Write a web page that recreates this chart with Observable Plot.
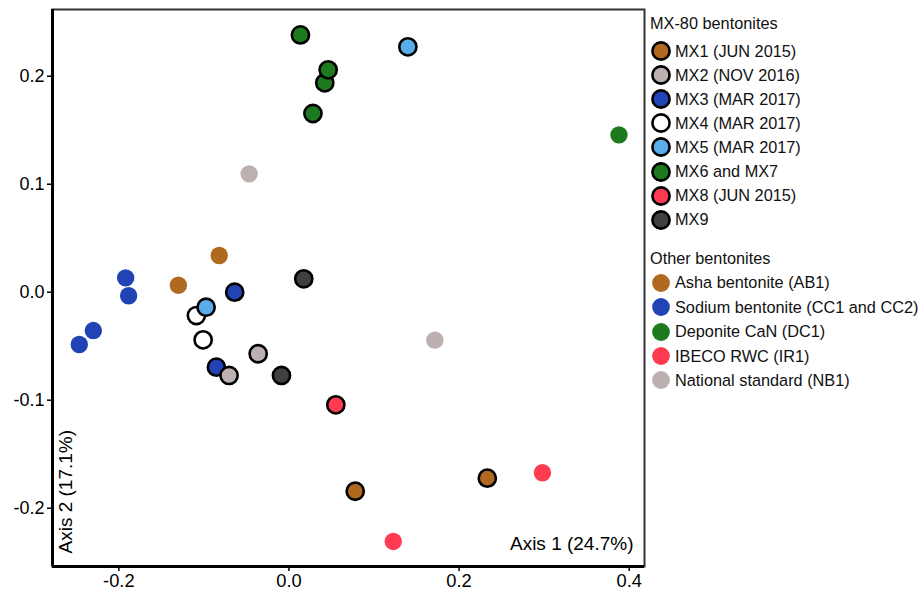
<!DOCTYPE html>
<html>
<head>
<meta charset="utf-8">
<script src="https://cdn.jsdelivr.net/npm/d3@7"></script>
<script src="https://cdn.jsdelivr.net/npm/@observablehq/plot@0.6"></script>
<style>
  html, body { margin: 0; padding: 0; background: #fff; }
  #wrap { position: relative; width: 920px; height: 589px; font-family: Arial, "Liberation Sans", sans-serif; }
  #legend { position: absolute; left: 650px; top: 10.5px; font-size: 16.3px; color: #111; }
  .lt { height: 24px; line-height: 24px; white-space: nowrap; }
  .li { display: flex; align-items: center; white-space: nowrap; }
  .mx .li { height: 24.1px; }
  .ot .li { height: 24.4px; }
  .li svg { margin-right: 3px; flex: none; }
</style>
</head>
<body>
<div id="wrap"><div id="chart"></div><div id="legend"></div></div>
<script>
// ---- Legend groups ----
const mxNames = ["MX1 (JUN 2015)", "MX2 (NOV 2016)", "MX3 (MAR 2017)", "MX4 (MAR 2017)", "MX5 (MAR 2017)", "MX6 and MX7", "MX8 (JUN 2015)", "MX9"];
const mxColors = ["#B0691E", "#BDB0B0", "#2143B6", "#FFFFFF", "#5AADEB", "#1E7A1E", "#FF3B52", "#404040"];
const otherNames = ["Asha bentonite (AB1)", "Sodium bentonite (CC1 and CC2)", "Deponite CaN (DC1)", "IBECO RWC (IR1)", "National standard (NB1)"];
const otherColors = ["#B0691E", "#2143B6", "#1E7A1E", "#FF3B52", "#BDB0B0"];

// ---- Other bentonites samples (no outline) ----
const otherGroup = ["Asha bentonite (AB1)", "Asha bentonite (AB1)",
  "Sodium bentonite (CC1 and CC2)", "Sodium bentonite (CC1 and CC2)", "Sodium bentonite (CC1 and CC2)", "Sodium bentonite (CC1 and CC2)",
  "Deponite CaN (DC1)", "IBECO RWC (IR1)", "IBECO RWC (IR1)",
  "National standard (NB1)", "National standard (NB1)"];
const otherAxis1 = [-0.082, -0.130, -0.192, -0.1885, -0.230, -0.2465, 0.388, 0.298, 0.1226, -0.0468, 0.1715];
const otherAxis2 = [0.034, 0.0065, 0.0133, -0.0033, -0.0355, -0.0484, 0.1457, -0.1672, -0.2308, 0.1096, -0.0444];

// ---- MX-80 samples (black outline) ----
const mxGroup = ["MX1 (JUN 2015)", "MX1 (JUN 2015)",
  "MX3 (MAR 2017)", "MX3 (MAR 2017)",
  "MX2 (NOV 2016)", "MX2 (NOV 2016)",
  "MX4 (MAR 2017)", "MX4 (MAR 2017)",
  "MX5 (MAR 2017)", "MX5 (MAR 2017)",
  "MX6 and MX7", "MX6 and MX7", "MX6 and MX7", "MX6 and MX7",
  "MX8 (JUN 2015)", "MX9", "MX9"];
const mxAxis1 = [0.0779, 0.2332, -0.0638, -0.0853, -0.0704, -0.0362, -0.1088, -0.1009, -0.0974, 0.1398, 0.0135, 0.0282, 0.0421, 0.0461, 0.0551, 0.0174, -0.0088];
const mxAxis2 = [-0.1843, -0.1722, 0.0, -0.0694, -0.0771, -0.057, -0.0216, -0.0441, -0.0139, 0.2272, 0.2383, 0.1655, 0.1939, 0.2059, -0.1043, 0.0124, -0.0771];

// ---- Axes ----
const xDomain = [-0.278, 0.418];
const yDomain = [-0.254, 0.2618];
const xTicks = [-0.2, 0.0, 0.2, 0.4];
const yTicks = [-0.2, -0.1, 0.0, 0.1, 0.2];
const xTitle = "Axis 1 (24.7%)";
const yTitle = "Axis 2 (17.1%)";

const colorOf = new Map([...mxNames.map((n, i) => [n, mxColors[i]]), ...otherNames.map((n, i) => [n, otherColors[i]])]);
const others = otherGroup.map((g, i) => ({group: g, x: otherAxis1[i], y: otherAxis2[i]}));
const mx = mxGroup.map((g, i) => ({group: g, x: mxAxis1[i], y: mxAxis2[i]}));

const chart = Plot.plot({
  width: 920,
  height: 589,
  marginLeft: 52,
  marginRight: 276,
  marginTop: 9,
  marginBottom: 23,
  style: {fontFamily: 'Arial, "Liberation Sans", sans-serif', fontSize: "18px", color: "#000", background: "#fff"},
  x: {domain: xDomain, ticks: xTicks, tickFormat: d => d.toFixed(1), label: null},
  y: {domain: yDomain, ticks: yTicks, tickFormat: d => d.toFixed(1), label: null},
  marks: [
    Plot.frame({stroke: "#333", strokeWidth: 2}),
    Plot.axisX({ticks: xTicks, tickFormat: d => d.toFixed(1), tickSize: 5, tickPadding: 2, strokeWidth: 1.5, fontSize: 18.3, label: null}),
    Plot.axisY({ticks: yTicks, tickFormat: d => d.toFixed(1), tickSize: 5, tickPadding: 3, strokeWidth: 1.5, fontSize: 18, label: null}),
    Plot.ruleX([xDomain[0]], {stroke: "#000", strokeWidth: 3}),
    Plot.ruleY([yDomain[0]], {stroke: "#000", strokeWidth: 3}),
    Plot.dot(others, {x: "x", y: "y", r: 8.7, fill: d => colorOf.get(d.group), stroke: "none"}),
    Plot.dot(mx, {x: "x", y: "y", r: 8.6, fill: d => colorOf.get(d.group), stroke: "#000", strokeWidth: 2.6}),
    Plot.text([xTitle], {frameAnchor: "bottom-right", dx: -11, dy: -17, fontSize: 19, fill: "#000", textAnchor: "end", lineAnchor: "bottom"}),
    Plot.text([yTitle], {frameAnchor: "bottom-left", dx: 19, dy: -13, rotate: -90, fontSize: 19, fill: "#000", textAnchor: "start"})
  ],
  color: {type: "identity"}
});
document.getElementById("chart").appendChild(chart);

// ---- HTML legend ----
const legend = document.getElementById("legend");
function circle(color, stroked) {
  return stroked
    ? `<svg width="22" height="22"><circle cx="11" cy="11" r="8.6" fill="${color}" stroke="#000" stroke-width="2.6"/></svg>`
    : `<svg width="22" height="22"><circle cx="11" cy="11" r="8.9" fill="${color}"/></svg>`;
}
let html = `<div class="lt">MX-80 bentonites</div><div style="height:4.5px"></div><div class="mx">`;
mxNames.forEach((n, i) => { html += `<div class="li">${circle(mxColors[i], true)}<span>${n}</span></div>`; });
html += `</div><div style="height:14.2px"></div><div class="lt">Other bentonites</div><div style="height:0.8px"></div><div class="ot">`;
otherNames.forEach((n, i) => { html += `<div class="li">${circle(otherColors[i], false)}<span>${n}</span></div>`; });
html += `</div>`;
legend.innerHTML = html;
</script>
</body>
</html>
